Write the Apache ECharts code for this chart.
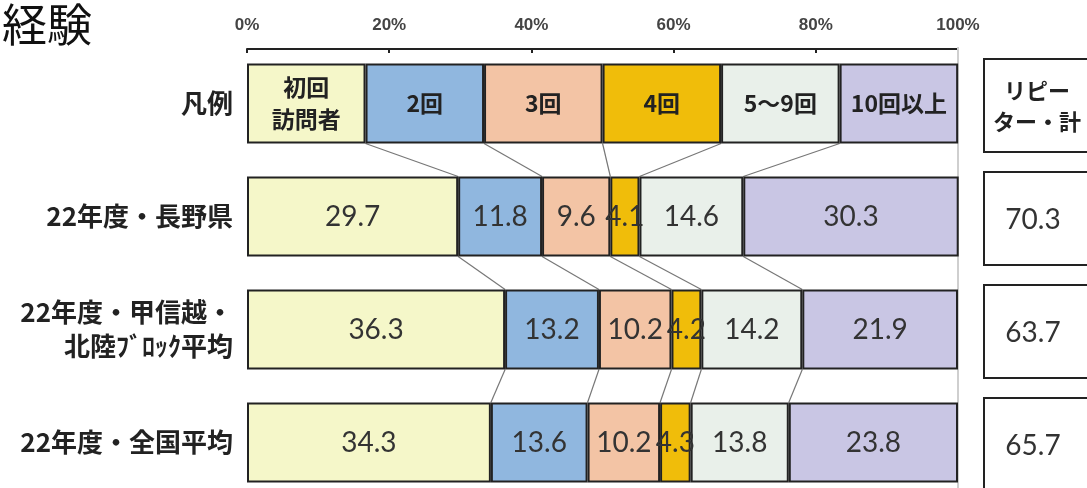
<!DOCTYPE html>
<html>
<head>
<meta charset="utf-8">
<script src="https://cdn.jsdelivr.net/npm/echarts@6/dist/echarts.min.js"></script>
<style>
html,body{margin:0;padding:0;background:#fff;}
#chart{width:1087px;height:488px;}
</style>
</head>
<body>
<div id="chart"></div>
<script>
// ---- data ----
var categories = ['凡例', '22年度・長野県', '22年度・甲信越・\n北陸ﾌﾞﾛｯｸ平均', '22年度・全国平均'];
var seriesNames = ['初回訪問者', '2回', '3回', '4回', '5〜9回', '10回以上'];
var legendLabels = ['初回\n訪問者', '2回', '3回', '4回', '5〜9回', '10回以上'];
// legend row: six equal-width sample boxes
var firstVisit = [16.67, 29.7, 36.3, 34.3];
var twice      = [16.67, 11.8, 13.2, 13.6];
var thrice     = [16.67, 9.6, 10.2, 10.2];
var fourTimes  = [16.67, 4.1, 4.2, 4.3];
var fiveToNine = [16.67, 14.6, 14.2, 13.8];
var tenPlus    = [16.67, 30.3, 21.9, 23.8];
var repeaterHeader = 'リピー\nター・計';
var repeaterTotals = [70.3, 63.7, 65.7];
var xTicks = [0, 20, 40, 60, 80, 100];

var allValues = [firstVisit, twice, thrice, fourTimes, fiveToNine, tenPlus];
var colors = ['#f5f7c9', '#90b7df', '#f3c4a5', '#f0bd0a', '#e9f0ea', '#c9c6e4'];

var BAR_W = 80;

// connector data: boundary k between row r and row r+1
var connectorData = [];
for (var r = 0; r < categories.length - 1; r++) {
  var c1 = 0, c2 = 0;
  for (var k = 0; k < allValues.length - 1; k++) {
    c1 += allValues[k][r];
    c2 += allValues[k][r + 1];
    connectorData.push([c1, r, c2, r + 1]);
  }
}

var chart = echarts.init(document.getElementById('chart'));

var barSeries = allValues.map(function (vals, si) {
  var s = {
    name: seriesNames[si],
    type: 'bar',
    stack: 'total',
    barWidth: BAR_W,
    xAxisIndex: 0,
    yAxisIndex: 0,
    data: vals,
    z: 3,
    itemStyle: { color: colors[si], borderColor: '#222', borderWidth: 2 },
    label: {
      show: true,
      position: 'inside',
      formatter: function (p) {
        if (p.dataIndex === 0) return '{l|' + legendLabels[si].split('\n').join('}\n{l|') + '}';
        return '{v|' + p.value + '}';
      },
      rich: {
        l: { fontFamily: 'Noto Sans CJK JP', fontWeight: 'bold', fontSize: 23, color: '#222', lineHeight: 32 },
        v: { fontFamily: 'Lato', fontSize: 28, color: '#333' }
      }
    },
    emphasis: { disabled: true }
  };
  if (si === 0) {
    s.markLine = {
      silent: true, symbol: 'none', z: 1,
      label: { show: false },
      lineStyle: { color: '#cfcfcf', width: 2, type: 'solid' },
      data: [{ xAxis: 100 }]
    };
  }
  return s;
});

var option = {
  animation: false,
  backgroundColor: '#fff',
  title: {
    text: '経験',
    left: -3,
    top: -3,
    textStyle: { fontFamily: 'Noto Sans CJK JP', fontWeight: 'normal', fontSize: 45, color: '#111' }
  },
  grid: [
    { left: 247, width: 711, top: 47, height: 452, outerBoundsMode: 'none', containLabel: false },
    { left: 983, width: 108, top: 47, height: 452, outerBoundsMode: 'none', containLabel: false }
  ],
  xAxis: [
    {
      type: 'value', gridIndex: 0, position: 'top', min: 0, max: 100, interval: 20, offset: -2,
      axisLine: { show: true, lineStyle: { color: '#222', width: 2 } },
      axisTick: { show: true, inside: true, length: 4, lineStyle: { color: '#222', width: 2 } },
      splitLine: { show: false },
      axisLabel: {
        margin: 15, color: '#444', fontFamily: 'Liberation Sans', fontWeight: 'bold', fontSize: 17,
        formatter: function (v) { return xTicks.indexOf(v) >= 0 ? v + '%' : ''; }
      }
    },
    { type: 'value', gridIndex: 1, min: 0, max: 1, show: false }
  ],
  yAxis: [
    {
      type: 'category', gridIndex: 0, data: categories, inverse: true,
      axisLine: { show: false }, axisTick: { show: false },
      axisLabel: {
        margin: 14, color: '#222', fontFamily: 'Noto Sans CJK JP', fontWeight: 'bold', fontSize: 26,
        lineHeight: 34, align: 'right'
      }
    },
    { type: 'category', gridIndex: 1, data: categories, inverse: true, show: false }
  ],
  series: barSeries.concat([
    {
      type: 'custom',
      name: 'connectors',
      xAxisIndex: 0, yAxisIndex: 0,
      z: 1,
      silent: true,
      data: connectorData,
      renderItem: function (params, api) {
        var p1 = api.coord([api.value(0), api.value(1)]);
        var p2 = api.coord([api.value(2), api.value(3)]);
        return {
          type: 'line',
          shape: { x1: p1[0], y1: p1[1] + BAR_W / 2, x2: p2[0], y2: p2[1] - BAR_W / 2 },
          style: { stroke: '#777', lineWidth: 1.2 }
        };
      }
    },
    {
      type: 'custom',
      name: 'repeaters',
      xAxisIndex: 1, yAxisIndex: 1,
      silent: true,
      data: [[0, 0], [0, 1], [0, 2], [0, 3]],
      renderItem: function (params, api) {
        var idx = params.dataIndex;
        var c = api.coord([0, idx]);
        var cs = params.coordSys;
        var h = 93;
        var cy = c[1] + 2;
        var isHead = idx === 0;
        var txt = isHead ? repeaterHeader : String(repeaterTotals[idx - 1]);
        return {
          type: 'group',
          children: [
            { type: 'rect', shape: { x: cs.x + 1, y: cy - h / 2, width: cs.width, height: h },
              style: { fill: '#fff', stroke: '#222', lineWidth: 2 } },
            { type: 'text', style: {
                text: txt, x: isHead ? 1037 : 1033, y: cy + 1,
                align: 'center', verticalAlign: 'middle',
                fill: isHead ? '#222' : '#333',
                font: isHead ? 'bold 22px "Noto Sans CJK JP"' : '28px Lato',
                lineHeight: 31
              } }
          ]
        };
      }
    }
  ])
};
chart.setOption(option);
</script>
</body>
</html>
